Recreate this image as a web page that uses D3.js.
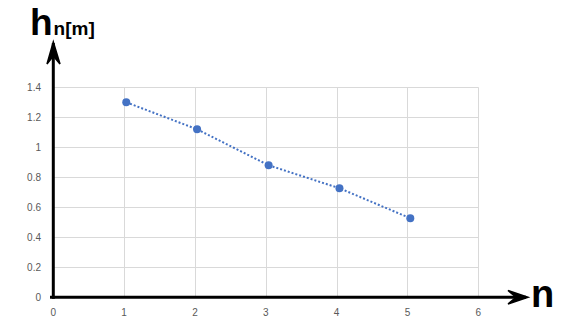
<!DOCTYPE html>
<html>
<head>
<meta charset="utf-8">
<script src="https://cdn.jsdelivr.net/npm/d3@7"></script>
<style>
  body { margin: 0; background: #fff; }
  svg { display: block; font-family: "Liberation Sans", Arial, sans-serif; }
</style>
</head>
<body>
<div id="chart"></div>
<script>
// chart size
const width = 565;
const height = 325;

// data
const nValues = [1.03, 2.03, 3.04, 4.04, 5.04];
const hValues = [1.30, 1.12, 0.88, 0.727, 0.527];
const xTicks = [0, 1, 2, 3, 4, 5, 6];
const yTicks = [0, 0.2, 0.4, 0.6, 0.8, 1, 1.2, 1.4];

const svg = d3.select("#chart")
  .append("svg")
  .attr("width", width)
  .attr("height", height);

// scales
const x = d3.scaleLinear().domain([0, 6]).range([53.3, 478.3]);
const y = d3.scaleLinear().domain([0, 1.4]).range([297.3, 87.3]);

// gridlines
svg.append("g")
  .selectAll("line")
  .data(yTicks.filter(d => d > 0))
  .enter()
  .append("line")
  .attr("x1", x(0))
  .attr("x2", x(6))
  .attr("y1", d => Math.round(y(d)) + 0.5)
  .attr("y2", d => Math.round(y(d)) + 0.5)
  .attr("stroke", "#d9d9d9")
  .attr("stroke-width", 1);

svg.append("g")
  .selectAll("line")
  .data(xTicks.filter(d => d > 0))
  .enter()
  .append("line")
  .attr("x1", d => Math.round(x(d)) + 0.5)
  .attr("x2", d => Math.round(x(d)) + 0.5)
  .attr("y1", y(1.4))
  .attr("y2", y(0))
  .attr("stroke", "#d9d9d9")
  .attr("stroke-width", 1);

// tick labels
svg.append("g")
  .selectAll("text")
  .data(yTicks)
  .enter()
  .append("text")
  .attr("x", 41)
  .attr("y", d => y(d))
  .attr("dy", "0.35em")
  .attr("text-anchor", "end")
  .style("font-size", "10px")
  .style("fill", "#595959")
  .text(d => d);

svg.append("g")
  .selectAll("text")
  .data(xTicks)
  .enter()
  .append("text")
  .attr("x", d => x(d))
  .attr("y", 312)
  .attr("dy", "0.35em")
  .attr("text-anchor", "middle")
  .style("font-size", "10px")
  .style("fill", "#595959")
  .text(d => d);

// dotted line through the points
const line = d3.line()
  .x((d, i) => x(nValues[i]))
  .y(d => y(d));

svg.append("path")
  .datum(hValues)
  .attr("d", line)
  .attr("fill", "none")
  .attr("stroke", "#4472c4")
  .attr("stroke-width", 2)
  .attr("stroke-dasharray", "2,2");

svg.append("g")
  .selectAll("circle")
  .data(hValues)
  .enter()
  .append("circle")
  .attr("cx", (d, i) => x(nValues[i]))
  .attr("cy", d => y(d))
  .attr("r", 4)
  .attr("fill", "#4472c4");

// axes with arrows
svg.append("line")
  .attr("x1", x(0)).attr("x2", x(0))
  .attr("y1", y(0) + 1.5).attr("y2", 43)
  .attr("stroke", "#000").attr("stroke-width", 3);

svg.append("path")
  .attr("d", "M47,64 L53.3,42 L60,64 L53.3,56 Z")
  .attr("fill", "#000")
  .attr("stroke", "#000")
  .attr("stroke-width", 1.5)
  .attr("stroke-linejoin", "miter");

svg.append("line")
  .attr("x1", 50).attr("x2", 526)
  .attr("y1", y(0)).attr("y2", y(0))
  .attr("stroke", "#000").attr("stroke-width", 3);

svg.append("path")
  .attr("d", "M508,290.5 L528,297.3 L508,304 L516,297.3 Z")
  .attr("fill", "#000")
  .attr("stroke", "#000")
  .attr("stroke-width", 1.5);

// axis titles
const yTitle = svg.append("text")
  .attr("x", 30)
  .attr("y", 35)
  .style("font-weight", "bold")
  .style("fill", "#000");
yTitle.append("tspan").style("font-size", "37px").text("h");
yTitle.append("tspan").style("font-size", "19px").attr("dx", 1).text("n[m]");

svg.append("text")
  .attr("x", 531)
  .attr("y", 307)
  .style("font-size", "38px")
  .style("font-weight", "bold")
  .style("fill", "#000")
  .text("n");
</script>
</body>
</html>
